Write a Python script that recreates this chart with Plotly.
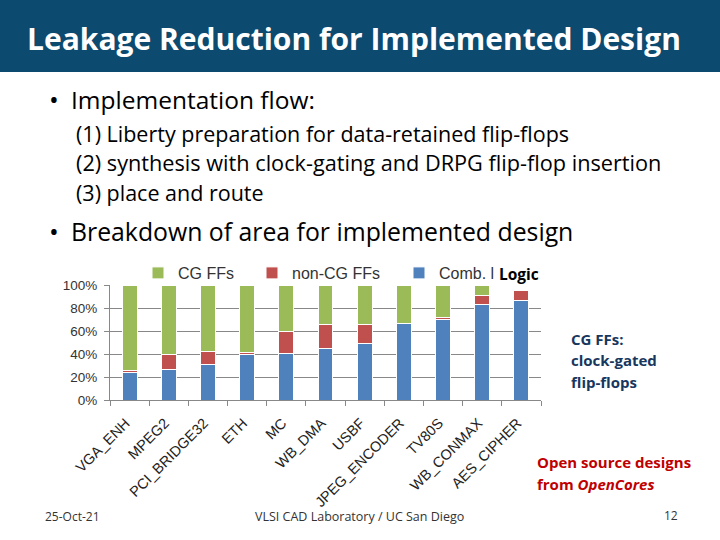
import plotly.graph_objects as go

designs = ["VGA_ENH", "MPEG2", "PCI_BRIDGE32", "ETH", "MC", "WB_DMA", "USBF",
           "JPEG_ENCODER", "TV80S", "WB_CONMAX", "AES_CIPHER"]
comb_logic = [24.3, 26.4, 31.3, 39.2, 40.8, 44.6, 48.8, 66.5, 70.0, 83.0, 86.9]
non_cg_ffs = [1.7, 13.3, 10.7, 2.2, 18.4, 21.0, 17.0, 0.0, 1.6, 7.6, 8.1]
cg_ffs = [74.0, 60.3, 58.0, 58.6, 40.8, 34.4, 34.2, 33.5, 28.4, 9.4, 0.0]

y_ticks = [0, 20, 40, 60, 80, 100]
y_tick_labels = ["0%", "20%", "40%", "60%", "80%", "100%"]

BLUE = "#4F81BD"
RED = "#C0504D"
GREEN = "#9BBB59"
CAL = "Open Sans"
ARIAL = "Liberation Sans"

W, H = 720, 540


def px(x):
    return x / W


def py(y):
    return 1 - y / H


fig = go.Figure()
fig.add_trace(go.Bar(x=designs, y=comb_logic, name="Comb. l", marker=dict(color=BLUE, line=dict(color="white", width=1)),
                     legend="legend3"))
fig.add_trace(go.Bar(x=designs, y=non_cg_ffs, name="non-CG FFs", marker=dict(color=RED, line=dict(color="white", width=1)),
                     legend="legend2"))
fig.add_trace(go.Bar(x=designs, y=cg_ffs, name="CG FFs", marker=dict(color=GREEN, line=dict(color="white", width=1)),
                     legend="legend"))

leg_common = dict(orientation="h", yanchor="middle", xanchor="left", bgcolor="rgba(0,0,0,0)",
                  font=dict(family=ARIAL, size=16, color="#333333"), itemwidth=30)

fig.update_layout(
    width=W, height=H, autosize=False,
    margin=dict(l=0, r=0, t=0, b=0),
    paper_bgcolor="white", plot_bgcolor="white",
    barmode="stack", bargap=0.62,
    showlegend=True,
    legend=dict(x=px(138), y=py(273), **leg_common),
    legend2=dict(x=px(252), y=py(273), **leg_common),
    legend3=dict(x=px(399), y=py(273), **leg_common),
    xaxis=dict(domain=[px(110), px(541)], tickangle=-45, tickson="boundaries", ticks="outside", ticklen=5,
               tickcolor="#888888", showline=True, linecolor="#888888", linewidth=1, showgrid=False,
               tickfont=dict(family=ARIAL, size=14.5, color="#222222"), automargin=False,
               ticklabelstandoff=8, ticklabelshift=-4),
    yaxis=dict(domain=[py(400), py(285)], range=[0, 100], tickvals=y_ticks, ticktext=y_tick_labels,
               ticks="outside", ticklen=5, tickcolor="#888888", showline=True, linecolor="#888888",
               showgrid=True, gridcolor="#888888", gridwidth=1, zeroline=False,
               tickfont=dict(family=ARIAL, size=13.5, color="#333333"), automargin=False, ticklabelstandoff=4),
)

# Header band
fig.add_shape(type="rect", xref="paper", yref="paper", x0=0, x1=1, y0=py(72), y1=1,
              fillcolor="#0C4A70", line=dict(width=0), layer="below")


def txt(x, y, s, size, color="black", bold=False, family=CAL, anchor="left"):
    if bold:
        s = "<b>" + s + "</b>"
    fig.add_annotation(x=px(x), y=py(y), xref="paper", yref="paper", text=s, showarrow=False,
                       xanchor=anchor, yanchor="middle", font=dict(family=family, size=size, color=color))


txt(25, 39, "Leakage Reduction for Implemented Design", 30, "white", bold=True)
txt(47, 99, "•", 26)
txt(69, 99, "Implementation flow:", 24.5)
txt(74, 134, "(1) Liberty preparation for data-retained flip-flops", 21.5)
txt(74, 163, "(2) synthesis with clock-gating and DRPG flip-flop insertion", 21.7)
txt(74, 192, "(3) place and route", 21.5)
txt(47, 231, "•", 26)
txt(69, 231, "Breakdown of area for implemented design", 24.8)
txt(497, 274, "Logic", 15.5, bold=True)
txt(569, 339, "CG FFs:", 15, "#17375E", bold=True)
txt(569, 360, "clock-gated", 15, "#17375E", bold=True)
txt(569, 382, "flip-flops", 15, "#17375E", bold=True)
txt(535, 462, "Open source designs", 15, "#C00000", bold=True)
txt(535, 484, "from <i>OpenCores</i>", 15, "#C00000", bold=True)
txt(43, 516, "25-Oct-21", 12, "#333333")
txt(253, 516, "VLSI CAD Laboratory / UC San Diego", 12.5, "#333333")
txt(662, 515, "12", 12, "#333333")

fig.write_html("out.html", config={"displayModeBar": False},
               post_script="document.body.style.margin='0';document.body.style.overflow='hidden';")
